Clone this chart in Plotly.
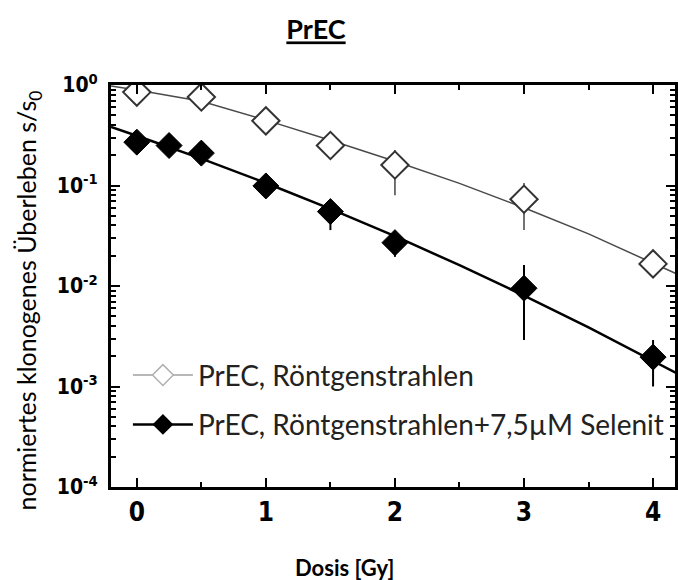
import plotly.graph_objects as go

# ---- data ----
dose_x = [0, 0.5, 1, 1.5, 2, 3, 4]
surv_x = [0.85, 0.76, 0.44, 0.25, 0.16, 0.073, 0.0166]
err_x_plus = [0.03, 0.03, 0.03, 0.02, 0.065, 0.033, 0.002]
err_x_minus = [0.03, 0.03, 0.03, 0.02, 0.08, 0.037, 0.002]

dose_se = [0, 0.25, 0.5, 1, 1.5, 2, 3, 4]
surv_se = [0.27, 0.25, 0.21, 0.099, 0.055, 0.027, 0.0095, 0.00196]
err_se_plus = [0.02, 0.02, 0.02, 0.01, 0.012, 0.006, 0.0067, 0.00094]
err_se_minus = [0.02, 0.02, 0.02, 0.01, 0.019, 0.0075, 0.0066, 0.00096]

fit_dose = [-0.2, 0, 0.5, 1, 1.5, 2, 2.5, 3, 3.5, 4, 4.2]
fit_x = [0.977, 0.89, 0.69, 0.447, 0.282, 0.174, 0.105, 0.060, 0.033, 0.017, 0.0129]
fit_se = [0.382, 0.313, 0.185, 0.106, 0.0585, 0.0313, 0.0161, 0.00804, 0.00387, 0.0018, 0.00132]

x_ticks = [0, 1, 2, 3, 4]
y_ticks = [1e-4, 1e-3, 1e-2, 1e-1, 1]
y_tick_text = ["10<sup>-4</sup>", "10<sup>-3</sup>", "10<sup>-2</sup>", "10<sup>-1</sup>", "10<sup>0</sup>"]
name_x = "PrEC, Röntgenstrahlen"
name_se = "PrEC, Röntgenstrahlen+7,5µM Selenit"

minor_y = [m * 10.0 ** e for e in range(-4, 0) for m in range(2, 10)]

TXT = "Lato"
TICKF = "DejaVu Sans Condensed"

fig = go.Figure()

# fit lines
fig.add_trace(go.Scatter(x=fit_dose, y=fit_x, mode="lines",
                         line=dict(color="#4a4a4a", width=1.5),
                         showlegend=False, hoverinfo="skip"))
fig.add_trace(go.Scatter(x=fit_dose, y=fit_se, mode="lines",
                         line=dict(color="black", width=2.5),
                         showlegend=False, hoverinfo="skip"))

# data points
fig.add_trace(go.Scatter(
    x=dose_x, y=surv_x, mode="markers", name=name_x,
    marker=dict(symbol="diamond", size=21, color="white",
                line=dict(color="#333333", width=2)),
    error_y=dict(type="data", array=err_x_plus, arrayminus=err_x_minus,
                 color="#444444", thickness=1.5, width=0),
    showlegend=False))
fig.add_trace(go.Scatter(
    x=dose_se, y=surv_se, mode="markers", name=name_se,
    marker=dict(symbol="diamond", size=20, color="black",
                line=dict(color="black", width=1)),
    error_y=dict(type="data", array=err_se_plus, arrayminus=err_se_minus,
                 color="black", thickness=2, width=0),
    showlegend=False))

# legend entries
fig.add_trace(go.Scatter(
    x=[None], y=[None], mode="lines+markers", name=name_x, legendgroup="a",
    marker=dict(symbol="diamond", size=16, color="white",
                line=dict(color="#b0b0b0", width=1.5)),
    line=dict(color="#a0a0a0", width=1.5)))
fig.add_trace(go.Scatter(
    x=[None], y=[None], mode="lines+markers", name=name_se, legendgroup="b",
    marker=dict(symbol="diamond", size=16, color="black"),
    line=dict(color="black", width=2.5)))

fig.update_layout(
    width=678, height=580,
    margin=dict(l=111, r=0, t=85, b=93),
    plot_bgcolor="white", paper_bgcolor="white",
    title=dict(text="<b>PrEC</b>", x=316 / 678, xanchor="center",
               y=1 - 30 / 580, yanchor="middle",
               font=dict(family=TXT, size=27, color="black", lineposition="under")),
    xaxis=dict(range=[-0.2, 4.17], tickmode="array", tickvals=x_ticks,
               ticktext=[str(v) for v in x_ticks],
               ticks="inside", ticklen=9, tickwidth=2, tickcolor="black",
               showline=True, linecolor="black", linewidth=3, mirror="ticks",
               showgrid=False, zeroline=False,
               tickfont=dict(family=TICKF, size=26, color="black", weight="bold"),
               ticklabelstandoff=0,
               minor=dict(dtick=0.5, tick0=0, ticks="inside", ticklen=5,
                          tickwidth=2, tickcolor="black", showgrid=False)),
    yaxis=dict(type="log", range=[-4, 0], tickmode="array", tickvals=y_ticks,
               ticktext=y_tick_text,
               ticks="inside", ticklen=9, tickwidth=2, tickcolor="black",
               showline=True, linecolor="black", linewidth=3, mirror="ticks",
               showgrid=False, zeroline=False,
               tickfont=dict(family=TICKF, size=21, color="black", weight="bold"),
               ticklabelstandoff=6,
               minor=dict(tickmode="array", tickvals=minor_y, ticks="inside",
                          ticklen=5, tickwidth=2, tickcolor="black", showgrid=False)),
    legend=dict(x=0.03, y=0.34, xanchor="left", yanchor="top",
                bgcolor="rgba(0,0,0,0)", borderwidth=0,
                font=dict(family=TXT, size=28, color="#222222"),
                itemwidth=60, tracegroupgap=10, traceorder="grouped"),
    annotations=[
        dict(text="normiertes klonogenes Überleben s/s<sub>0</sub>",
             xref="paper", yref="paper", x=(28 - 111) / 567, y=(487 - 300) / 402,
             textangle=-90, showarrow=False, xanchor="center", yanchor="middle",
             font=dict(family=TXT, size=25, color="black")),
        dict(text="<b>Dosis [Gy]</b>", xref="paper", yref="paper",
             x=(346 - 111) / 567, y=(487 - 567) / 402, showarrow=False,
             xanchor="center", yanchor="middle",
             font=dict(family=TXT, size=22, color="black")),
    ],
)

fig.write_html("out.html")
